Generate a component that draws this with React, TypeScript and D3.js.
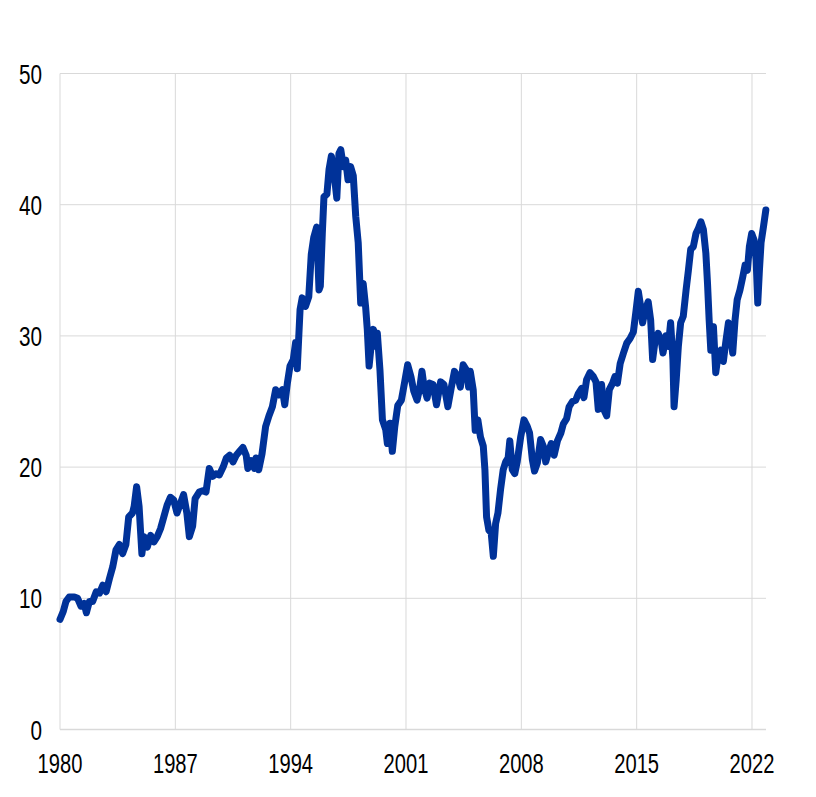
import React, { useEffect } from 'react';
import * as d3 from 'd3';

// time points (decimal years) and values
const years = [
  1980.0, 1980.2, 1980.36, 1980.56, 1980.87, 1981.07, 1981.27, 1981.47, 1981.6, 1981.78,
  1981.98, 1982.2, 1982.4, 1982.6, 1982.8, 1983.0, 1983.2, 1983.4, 1983.6, 1983.8,
  1984.0, 1984.17, 1984.4, 1984.5, 1984.65, 1984.8, 1984.97, 1985.1, 1985.3, 1985.5,
  1985.7, 1985.9, 1986.1, 1986.3, 1986.5, 1986.7, 1986.9, 1987.1, 1987.3, 1987.5,
  1987.7, 1987.85, 1988.05, 1988.2, 1988.45, 1988.66, 1988.86, 1989.06, 1989.27, 1989.47,
  1989.67, 1989.9, 1990.1, 1990.3, 1990.5, 1990.7, 1990.9, 1991.1, 1991.3, 1991.4,
  1991.6, 1991.8, 1991.9, 1992.06, 1992.26, 1992.48, 1992.68, 1992.89, 1993.09, 1993.3,
  1993.5, 1993.64, 1993.8, 1993.96, 1994.16, 1994.3, 1994.4, 1994.57, 1994.7, 1994.9,
  1995.1, 1995.25, 1995.4, 1995.58, 1995.72, 1995.8, 1995.92, 1996.02, 1996.2, 1996.33,
  1996.47, 1996.63, 1996.8, 1996.93, 1997.04, 1997.2, 1997.34, 1997.48, 1997.64, 1997.8,
  1997.95, 1998.1, 1998.25, 1998.4, 1998.55, 1998.65, 1998.76, 1998.9, 1999.02, 1999.16,
  1999.26, 1999.42, 1999.57, 1999.77, 1999.87, 2000.03, 2000.17, 2000.32, 2000.5, 2000.72,
  2000.92, 2001.1, 2001.3, 2001.47, 2001.67, 2001.83, 2001.97, 2002.1, 2002.28, 2002.44,
  2002.64, 2002.85, 2003.1, 2003.3, 2003.54, 2003.74, 2003.94, 2004.14, 2004.3, 2004.47,
  2004.67, 2004.8, 2004.9, 2005.08, 2005.2, 2005.36, 2005.52, 2005.69, 2005.79, 2005.89,
  2006.03, 2006.17, 2006.3, 2006.44, 2006.58, 2006.74, 2006.9, 2007.05, 2007.2, 2007.3,
  2007.45, 2007.6, 2007.75, 2007.96, 2008.16, 2008.36, 2008.5, 2008.67, 2008.8, 2008.97,
  2009.17, 2009.33, 2009.48, 2009.68, 2009.82, 2009.99, 2010.19, 2010.4, 2010.55, 2010.75,
  2010.9, 2011.1, 2011.3, 2011.46, 2011.66, 2011.8, 2011.96, 2012.17, 2012.37, 2012.53,
  2012.67, 2012.87, 2013.0, 2013.18, 2013.34, 2013.54, 2013.68, 2013.83, 2014.0, 2014.2,
  2014.4, 2014.6, 2014.8, 2014.96, 2015.1, 2015.24, 2015.36, 2015.5, 2015.7, 2015.85,
  2015.97, 2016.1, 2016.3, 2016.48, 2016.6, 2016.78, 2016.92, 2017.06, 2017.2, 2017.27,
  2017.4, 2017.53, 2017.67, 2017.83, 2018.0, 2018.14, 2018.28, 2018.44, 2018.6, 2018.75,
  2018.9, 2019.05, 2019.2, 2019.3, 2019.4, 2019.5, 2019.66, 2019.8, 2019.96, 2020.1,
  2020.26, 2020.4, 2020.57, 2020.7, 2020.83, 2020.97, 2021.1, 2021.27, 2021.44, 2021.58,
  2021.72, 2021.84, 2021.98, 2022.13, 2022.25, 2022.35, 2022.45, 2022.55, 2022.7, 2022.84,
];

const values = [
  8.4, 9.0, 9.75, 10.1, 10.1, 10.0, 9.4, 9.6, 8.9, 9.75,
  9.75, 10.5, 10.4, 11.0, 10.5, 11.5, 12.4, 13.7, 14.1, 13.4,
  14.1, 16.2, 16.5, 17.0, 18.5, 17.0, 13.4, 14.7, 13.9, 14.8,
  14.3, 14.7, 15.3, 16.2, 17.1, 17.7, 17.5, 16.5, 17.2, 17.9,
  16.5, 14.7, 15.5, 17.6, 18.1, 18.2, 18.1, 19.9, 19.3, 19.5,
  19.4, 20.0, 20.7, 20.9, 20.4, 20.9, 21.2, 21.5, 20.9, 19.9,
  20.5, 19.9, 20.7, 19.8, 21.0, 23.1, 23.9, 24.6, 25.9, 25.5,
  25.9, 24.75, 26.4, 27.7, 28.2, 29.5, 27.5, 32.0, 32.9, 32.25,
  33.0, 36.2, 37.5, 38.3, 33.5, 33.8, 37.8, 40.6, 40.8, 42.7,
  43.7, 42.4, 40.5, 43.9, 44.2, 42.9, 43.4, 41.9, 42.9, 42.2,
  39.1, 37.1, 32.5, 34.0, 32.2, 30.5, 27.7, 29.45, 30.5, 29.2,
  30.2, 27.4, 23.6, 22.85, 21.8, 23.35, 21.2, 23.1, 24.7, 25.1,
  26.5, 27.8, 26.9, 25.8, 25.1, 26.0, 27.3, 26.1, 25.25, 26.4,
  26.3, 24.75, 26.5, 26.3, 24.6, 26.0, 27.3, 26.9, 26.1, 27.8,
  27.4, 26.1, 27.3, 25.9, 22.8, 23.6, 22.3, 21.6, 19.8, 16.2,
  15.2, 15.0, 13.2, 15.7, 16.5, 18.3, 19.8, 20.4, 20.7, 22.0,
  19.8, 19.5, 20.4, 22.3, 23.6, 23.1, 22.6, 20.55, 19.7, 20.3,
  22.1, 21.6, 20.4, 21.3, 21.8, 20.9, 22.0, 22.6, 23.3, 23.7,
  24.6, 25.0, 25.1, 25.6, 26.0, 25.3, 26.65, 27.2, 26.9, 26.5,
  24.4, 26.3, 24.4, 23.9, 25.9, 26.4, 26.9, 26.4, 27.9, 28.7,
  29.45, 29.8, 30.3, 31.9, 33.4, 32.25, 31.0, 31.9, 32.6, 31.2,
  28.2, 29.45, 30.2, 29.7, 28.7, 30.0, 29.2, 31.0, 28.2, 24.6,
  26.65, 29.2, 31.0, 31.5, 33.5, 35.0, 36.6, 36.8, 37.8, 38.2,
  38.7, 38.1, 36.3, 34.0, 31.2, 28.9, 30.7, 27.2, 28.7, 28.9,
  28.05, 29.45, 31.0, 30.0, 28.7, 31.2, 32.75, 33.5, 34.5, 35.4,
  35.0, 36.8, 37.8, 37.3, 35.8, 32.5, 35.0, 37.1, 38.35, 39.6,
];

const xTicks = [1980, 1987, 1994, 2001, 2008, 2015, 2022];
const yTicks = [0, 10, 20, 30, 40, 50];

const width = 816;
const height = 797;
const left = 60;
const right = 766;
const top = 73.5;
const bottom = 729.5;

const blue = '#003299';
const grid = '#d9d9d9';
const font = '"Liberation Sans", Arial, sans-serif';

const App: React.FC = () => {
  useEffect(() => {
    document.body.style.margin = '0';
  }, []);

  const x = d3.scaleLinear().domain([1980, 2022.85]).range([left, right]);
  const y = d3.scaleLinear().domain([0, 50]).range([bottom, top]);

  const points: [number, number][] = years.map((yr, i) => [yr, values[i]]);
  const line = d3.line<[number, number]>()
    .x(d => x(d[0]))
    .y(d => y(d[1]));

  return (
    <svg width={width} height={height} style={{ display: 'block', background: '#fff' }}>
      {yTicks.map(t => (
        <line key={'h' + t} x1={left} x2={right} y1={y(t)} y2={y(t)}
          stroke={grid} strokeWidth={t === 0 ? 1.5 : 1} />
      ))}
      {xTicks.map(t => (
        <line key={'v' + t} x1={x(t)} x2={x(t)} y1={y(50)} y2={y(0)}
          stroke={grid} strokeWidth={1} />
      ))}
      {yTicks.map(t => (
        <text key={'yl' + t}
          transform={`translate(42,${y(t) + 10}) scale(0.74,1)`}
          textAnchor="end" fontFamily={font} fontSize={28} fill="#000">
          {t}
        </text>
      ))}
      {xTicks.map(t => (
        <text key={'xl' + t}
          transform={`translate(${x(t)},773) scale(0.72,1)`}
          textAnchor="middle" fontFamily={font} fontSize={28} fill="#000">
          {t}
        </text>
      ))}
      <path d={line(points) ?? ''} fill="none" stroke={blue} strokeWidth={7}
        strokeLinejoin="round" strokeLinecap="round" />
    </svg>
  );
};

export default App;
